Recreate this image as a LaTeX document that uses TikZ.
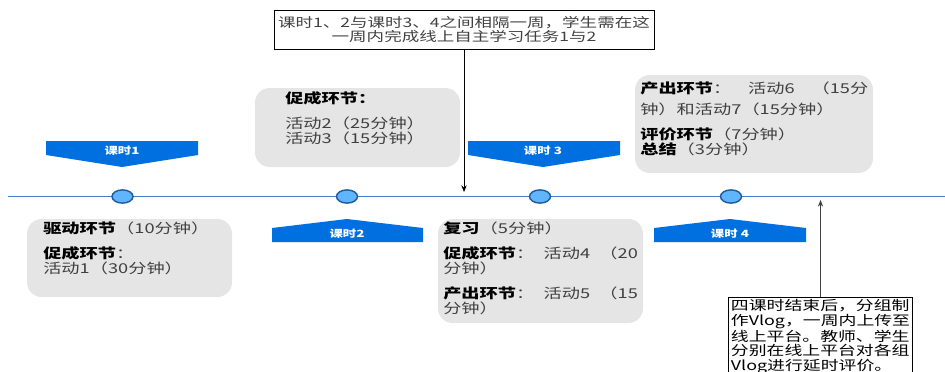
\documentclass[tikz,border=0pt]{standalone}
\usepackage{fontspec}
\usepackage{xcolor}
\usepackage{tikz}
\usetikzlibrary{arrows.meta}

\newfontfamily\cjk{Noto Sans CJK SC}[FakeStretch=1.34]
\definecolor{bannerblue}{RGB}{0,112,224}
\definecolor{linkblue}{RGB}{74,126,187}
\definecolor{dotfill}{RGB}{97,181,255}
\definecolor{dotedge}{RGB}{31,94,158}
\definecolor{boxgray}{RGB}{229,229,229}
\definecolor{txtgray}{RGB}{64,64,64}

\tikzset{
  graybox/.style={fill=boxgray, draw=none, rounded corners=11pt},
  banner/.style={fill=bannerblue, draw=none},
  bannertxt/.style={inner sep=0pt, text=white, font=\cjk\bfseries\fontsize{7.5}{8}\selectfont},
  dot/.style={fill=dotfill, draw=dotedge, line width=1.1pt},
  boxtxt/.style={anchor=north west, inner sep=0pt, align=left, text=txtgray, font=\cjk\fontsize{10.2}{11.25}\selectfont},
  notebox/.style={draw=black, line width=0.7pt, inner sep=2pt, font=\cjk\fontsize{10.2}{11.25}\selectfont},
  notearrow/.style={-{Stealth[length=5pt,width=4pt]}, line width=0.6pt}
}
\newcommand{\hd}[1]{\textcolor{black}{\bfseries #1}}
\newcommand{\spread}[2]{\makebox[#1][l]{#2}}

\begin{document}
\begin{tikzpicture}[x=0.75pt,y=0.75pt,yscale=-1,xscale=1]
\useasboundingbox (0,0) rectangle (945,371);

%Timeline
\draw [linkblue, line width=1.3pt] (8,196.5) -- (945,196.5) ;
%Dots
\draw [dot] (122.5,196.5) circle [x radius=10.5, y radius=6.6] ;
\draw [dot] (347,196.5) circle [x radius=10.5, y radius=6.6] ;
\draw [dot] (540,196.5) circle [x radius=10.5, y radius=6.6] ;
\draw [dot] (731,196.5) circle [x radius=10.5, y radius=6.6] ;

%Banners
\draw [banner] (46,141) -- (198,141) -- (198,155) -- (122,167) -- (46,155) -- cycle ;
\draw [banner] (272,242) -- (423,242) -- (423,228) -- (347,219) -- (272,228) -- cycle ;
\draw [banner] (468,141) -- (620,141) -- (620,155) -- (543,167) -- (468,155) -- cycle ;
\draw [banner] (654,242) -- (806,242) -- (806,228) -- (730,219) -- (654,228) -- cycle ;
\node [bannertxt] (lesson1) at (122,150.5) {课时1};
\node [bannertxt] (lesson2) at (347,233.5) {课时2};
\node [bannertxt] (lesson3) at (543,150.5) {课时 3};
\node [bannertxt] (lesson4) at (730,233.5) {课时 4};

%Gray boxes
\draw [graybox] (27,219) rectangle (232,297) ;
\draw [graybox] (255,88) rectangle (460,167) ;
\draw [graybox] (438,219) rectangle (643,323) ;
\draw [graybox] (635,75) rectangle (873,173) ;

% Text Node
\node [boxtxt] (stageA) at (43,222) {\hd{驱动环节}（10分钟）\\[7.5pt]\hd{促成环节}：\\活动1（30分钟）};
% Text Node
\node [boxtxt] (stageB) at (285,91) {\hd{促成环节：}\\[7.5pt]活动2（25分钟）\\活动3（15分钟）};
% Text Node
\node [boxtxt] (stageC) at (443,222) {\hd{复习}（5分钟）\\[7.5pt]\spread{146pt}{\hd{促成环节}：\hfill 活动4\hfill（20}\\分钟）\\[7.5pt]\spread{146pt}{\hd{产出环节}：\hfill 活动5\hfill（15}\\分钟）};
% Text Node
\node [boxtxt] (stageD) at (640,82) {\spread{171pt}{\hd{产出环节}：\hfill 活动6\hfill（15分}\\[4pt]钟）和活动7（15分钟）\\[7.5pt]\hd{评价环节}（7分钟）\\\hd{总结}（3分钟）};

%Notes
\node [notebox, align=center, text=txtgray, inner sep=1pt, minimum width=285pt, minimum height=29.25pt, font=\cjk\fontsize{9.8}{11}\selectfont] (weeknote) at (464,29.5) {课时1、2与课时3、4之间相隔一周，学生需在这\\一周内完成线上自主学习任务1与2};
\coordinate (weektip) at (464,192) ;
\draw [notearrow] (weeknote.south) -- (weektip) ;

\node [notebox, anchor=north, align=left, inner sep=1.5pt, font=\cjk\fontsize{10}{10.9}\selectfont] (vlognote) at (820.5,297) {四课时结束后，分组制\\作Vlog，一周内上传至\\线上平台。教师、学生\\分别在线上平台对各组\\Vlog进行延时评价。};
\coordinate (vlogtip) at (820.5,200) ;
\draw [notearrow, draw=black!75] (vlognote.north) -- (vlogtip) ;
\end{tikzpicture}
\end{document}
